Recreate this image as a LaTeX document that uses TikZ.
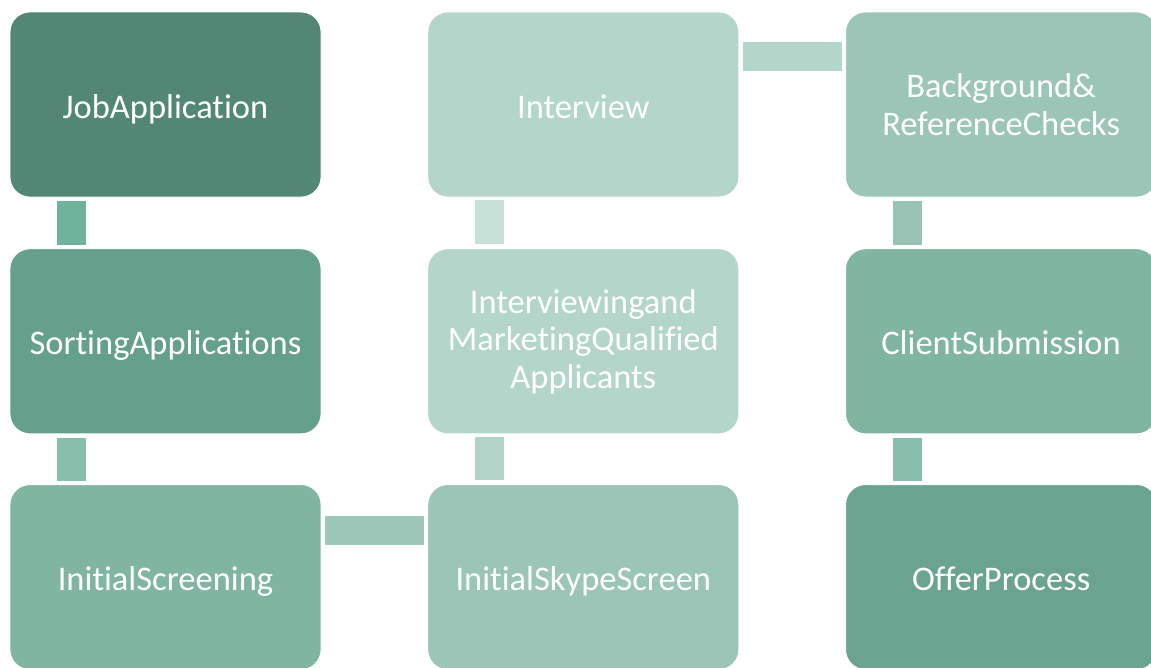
\documentclass[tikz,border=0pt]{standalone}
\usepackage{fontspec}
\setmainfont{Carlito}[Ligatures=NoCommon]
\usetikzlibrary{positioning}

\definecolor{stepA}{HTML}{528776}
\definecolor{stepB}{HTML}{64A08C}
\definecolor{stepC}{HTML}{80B5A2}
\definecolor{stepD}{HTML}{9BC5B6}
\definecolor{stepE}{HTML}{B4D5CA}
\definecolor{linkA}{HTML}{6FB39D}
\definecolor{linkB}{HTML}{87BFAC}
\definecolor{linkC}{HTML}{9DC8B9}
\definecolor{linkD}{HTML}{B2D4C8}
\definecolor{linkE}{HTML}{C7E0D8}

\begin{document}
\begin{tikzpicture}[font=\fontsize{34.5}{37.5}\selectfont,
    stepbox/.style={rectangle, rounded corners=20pt, draw=white, line width=0.8pt,
        minimum width=311pt, minimum height=185pt, inner sep=0pt,
        align=center, text=white},
    oneline/.style={stepbox, text height=31pt, text depth=4pt},
    link/.style={line width=29pt, shorten <=4pt, shorten >=3pt}]

        \useasboundingbox (0pt,0pt) rectangle (1151pt,-667pt);

        % Left column
        \node[oneline, fill=stepA] (job) at (165.5pt,-104.5pt) {JobApplication};
        \node[oneline, fill=stepB, below=51pt of job] (sort) {SortingApplications};
        \node[oneline, fill=stepC, below=50pt of sort] (screen) {InitialScreening};

        % Middle column
        \node[oneline, fill=stepD, right=106pt of screen] (skype) {InitialSkypeScreen};
        \node[stepbox, fill=stepE, above=50pt of skype] (market) {Interviewingand\\MarketingQualified\\Applicants};
        \node[oneline, fill=stepE, above=51pt of market] (interview) {Interview};

        % Right column
        \node[stepbox, fill=stepD, right=106pt of interview] (check) {Background\&\\ReferenceChecks};
        \node[oneline, fill=stepC, below=51pt of check] (client) {ClientSubmission};
        \node[oneline, fill=stepB!96!white, below=50pt of client] (offer) {OfferProcess};

        % Links
        \draw[link, linkA] ([xshift=62pt]job.south west) -- ([xshift=62pt]sort.north west);
        \draw[link, linkB] ([xshift=62pt]sort.south west) -- ([xshift=62pt]screen.north west);
        \draw[link, linkC] ([yshift=-46pt]screen.north east) -- ([yshift=-46pt]skype.north west);
        \draw[link, linkD] ([xshift=62pt]skype.north west) -- ([xshift=62pt]market.south west);
        \draw[link, linkE] ([xshift=62pt]market.north west) -- ([xshift=62pt]interview.south west);
        \draw[link, stepE] ([yshift=-45pt]interview.north east) -- ([yshift=-45pt]check.north west);
        \draw[link, linkC!97!black] ([xshift=62pt]check.south west) -- ([xshift=62pt]client.north west);
        \draw[link, linkB] ([xshift=62pt]client.south west) -- ([xshift=62pt]offer.north west);

    \end{tikzpicture}
\end{document}
